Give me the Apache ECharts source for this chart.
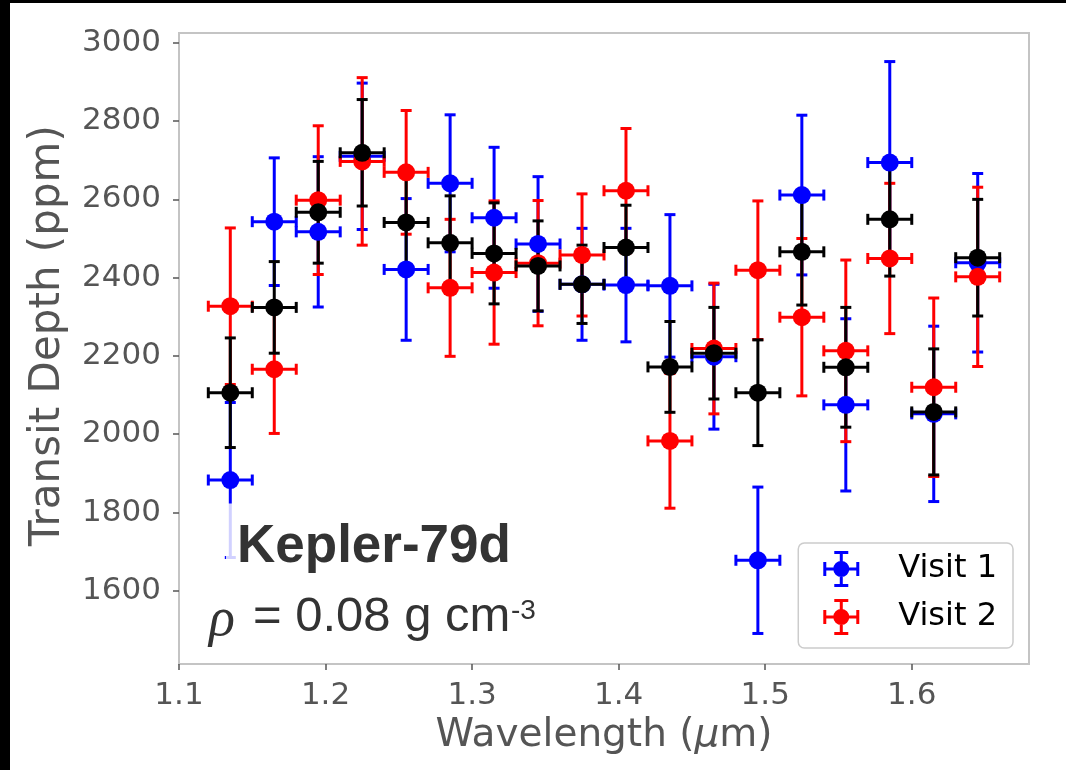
<!DOCTYPE html>
<html>
<head>
<meta charset="utf-8">
<script src="https://cdn.jsdelivr.net/npm/echarts@6/dist/echarts.min.js"></script>
<style>
  html, body { margin: 0; padding: 0; background: #fff; }
  #chart { width: 1066px; height: 770px; }
</style>
</head>
<body>
<div id="chart"></div>
<script>
// ---- data ----
const wavelength = [1.135, 1.165, 1.195, 1.225, 1.255, 1.285, 1.315, 1.345, 1.375,
                    1.405, 1.435, 1.465, 1.495, 1.525, 1.555, 1.585, 1.615, 1.645];
const binHalfWidth = [0.015, 0.015, 0.015, 0.015, 0.015, 0.015, 0.015, 0.015, 0.015,
                      0.015, 0.015, 0.015, 0.015, 0.015, 0.015, 0.015, 0.015, 0.015];

const visit1Depth = [1883, 2543, 2517, 2710, 2421, 2641, 2553, 2486, 2383,
                     2381, 2379, 2198, 1678, 2611, 2075, 2694, 2052, 2438];
const visit1Err   = [198, 163, 192, 187, 181, 175, 180, 172, 143,
                     145, 182, 185, 187, 204, 220, 258, 224, 228];

const visit2Depth = [2327, 2166, 2598, 2697, 2669, 2374, 2413, 2437, 2458,
                     2622, 1983, 2219, 2419, 2299, 2213, 2449, 2120, 2402];
const visit2Err   = [200, 164, 190, 214, 158, 175, 183, 160, 156,
                     159, 172, 167, 177, 201, 232, 192, 228, 229];

const combinedDepth = [2106, 2324, 2567, 2719, 2541, 2489, 2462, 2430, 2383,
                       2477, 2172, 2207, 2106, 2466, 2171, 2549, 2057, 2451];
const combinedErr   = [140, 117, 130, 136, 115, 120, 129, 115, 100,
                       108, 116, 117, 135, 136, 153, 145, 161, 149];

const xTicks = [1.1, 1.2, 1.3, 1.4, 1.5, 1.6];
const yTicks = [1600, 1800, 2000, 2200, 2400, 2600, 2800, 3000];

// ---- helpers ----
function rows(depth, err) {
  return wavelength.map((w, i) => [w, depth[i], binHalfWidth[i], err[i]]);
}

function errorBarRenderer(color) {
  return function (params, api) {
    const x = api.value(0), y = api.value(1), xe = api.value(2), ye = api.value(3);
    const l = api.coord([x - xe, y]);
    const r = api.coord([x + xe, y]);
    const t = api.coord([x, y + ye]);
    const b = api.coord([x, y - ye]);
    const cap = 5.5;
    const st = () => ({ stroke: color, lineWidth: 3 });
    return {
      type: 'group',
      children: [
        { type: 'line', shape: { x1: l[0], y1: l[1], x2: r[0], y2: r[1] }, style: st() },
        { type: 'line', shape: { x1: t[0], y1: t[1], x2: b[0], y2: b[1] }, style: st() },
        { type: 'line', shape: { x1: t[0] - cap, y1: t[1], x2: t[0] + cap, y2: t[1] }, style: st() },
        { type: 'line', shape: { x1: b[0] - cap, y1: b[1], x2: b[0] + cap, y2: b[1] }, style: st() },
        { type: 'line', shape: { x1: l[0], y1: l[1] - cap, x2: l[0], y2: l[1] + cap }, style: st() },
        { type: 'line', shape: { x1: r[0], y1: r[1] - cap, x2: r[0], y2: r[1] + cap }, style: st() }
      ]
    };
  };
}

function errSeries(name, color, depth, err) {
  return {
    name: name,
    type: 'custom',
    renderItem: errorBarRenderer(color),
    data: rows(depth, err),
    encode: { x: 0, y: 1 },
    itemStyle: { color: color },
    clip: true,
    silent: true
  };
}

function markerSeries(name, color, depth) {
  return {
    name: name,
    type: 'scatter',
    data: wavelength.map((w, i) => [w, depth[i]]),
    symbol: 'circle',
    symbolSize: 18,
    itemStyle: { color: color, opacity: 1 },
    silent: true
  };
}

// legend glyph: errorbar cross with round marker (all sub-paths clockwise)
const errIcon = 'path://M0 16.5H36V19.5H0Z M16.5 0H19.5V36H16.5Z ' +
  'M0 11H3V25H0Z M33 11H36V25H33Z M11 0H25V3H11Z M11 33H25V36H11Z ' +
  'M10 18A8 8 0 1 1 26 18A8 8 0 1 1 10 18Z';

const BLUE = '#0000ff', RED = '#ff0000', BLACK = '#000000';
const TICK_COLOR = '#555555';

const chart = echarts.init(document.getElementById('chart'), null, { renderer: 'canvas' });

chart.setOption({
  animation: false,
  backgroundColor: '#ffffff',
  grid: {
    left: 179, right: 37, top: 33, bottom: 106,
    show: true, borderColor: '#c4c4c4', borderWidth: 2, backgroundColor: 'transparent'
  },
  xAxis: {
    type: 'value',
    min: 1.1, max: 1.68,
    name: 'Wavelength ({it|μ}m)',
    nameLocation: 'middle',
    nameGap: 52,
    nameTextStyle: {
      fontFamily: 'DejaVu Sans', fontSize: 39, color: TICK_COLOR,
      rich: { it: { fontFamily: 'DejaVu Sans', fontStyle: 'italic', fontSize: 39, color: TICK_COLOR } }
    },
    axisLine: { show: false },
    splitLine: { show: false },
    axisTick: { show: true, length: 6, inside: false, lineStyle: { color: TICK_COLOR, width: 1.5 },
                customValues: xTicks },
    axisLabel: { show: true, margin: 16, fontFamily: 'DejaVu Sans', fontSize: 31, color: TICK_COLOR,
                 customValues: xTicks, formatter: v => v.toFixed(1) }
  },
  yAxis: {
    type: 'value',
    min: 1413, max: 3025,
    name: 'Transit Depth (ppm)',
    nameLocation: 'middle',
    nameGap: 110,
    nameTextStyle: { fontFamily: 'DejaVu Sans', fontSize: 42, color: TICK_COLOR, padding: [0, 0, 0, 26] },
    axisLine: { show: false },
    splitLine: { show: false },
    axisTick: { show: true, length: 6, inside: false, lineStyle: { color: TICK_COLOR, width: 1.5 },
                customValues: yTicks },
    axisLabel: { show: true, margin: 18, fontFamily: 'DejaVu Sans', fontSize: 31, color: TICK_COLOR,
                 customValues: yTicks, formatter: v => String(v) }
  },
  legend: {
    data: [
      { name: 'Visit 1', icon: errIcon },
      { name: 'Visit 2', icon: errIcon }
    ],
    orient: 'vertical',
    right: 53, bottom: 122,
    itemWidth: 36, itemHeight: 36, itemGap: 12,
    padding: [8, 16, 13, 25],
    backgroundColor: 'rgba(255,255,255,0.8)',
    borderColor: '#cccccc', borderWidth: 1.5, borderRadius: 6,
    selectedMode: false,
    textStyle: { fontFamily: 'DejaVu Sans', fontSize: 32, color: '#000', padding: [0, 0, 0, 34] }
  },
  series: [
    errSeries('Visit 1', BLUE, visit1Depth, visit1Err),
    markerSeries('Visit 1', BLUE, visit1Depth),
    errSeries('Visit 2', RED, visit2Depth, visit2Err),
    markerSeries('Visit 2', RED, visit2Depth),
    errSeries('Combined', BLACK, combinedDepth, combinedErr),
    markerSeries('Combined', BLACK, combinedDepth)
  ],
  graphic: [
    { type: 'rect', left: 0, top: 0, shape: { width: 10, height: 770 }, style: { fill: '#000' }, z: 200 },
    { type: 'rect', left: 0, top: 0, shape: { width: 1066, height: 3 }, style: { fill: '#000' }, z: 200 },
    {
      type: 'text', x: 226, y: 547, z: 100,
      style: {
        text: 'Kepler-79d',
        fontFamily: 'Liberation Sans', fontWeight: 'bold', fontSize: 53,
        fill: '#333333', verticalAlign: 'middle', align: 'left',
        backgroundColor: 'rgba(255,255,255,0.82)', padding: [20, 12, 14, 11]
      }
    },
    {
      type: 'text', x: 209, y: 621, z: 100,
      style: {
        text: 'ρ', fontFamily: 'Liberation Serif', fontStyle: 'italic', fontSize: 54,
        fill: '#333333', verticalAlign: 'middle', align: 'left'
      }
    },
    {
      type: 'text', x: 253, y: 617, z: 100,
      style: {
        text: '= 0.08 g cm', fontFamily: 'Liberation Sans', fontSize: 49,
        fill: '#333333', verticalAlign: 'middle', align: 'left'
      }
    },
    {
      type: 'text', x: 511, y: 611, z: 100,
      style: {
        text: '-3', fontFamily: 'Liberation Sans', fontSize: 28,
        fill: '#333333', verticalAlign: 'middle', align: 'left'
      }
    }
  ]
});
</script>
</body>
</html>
